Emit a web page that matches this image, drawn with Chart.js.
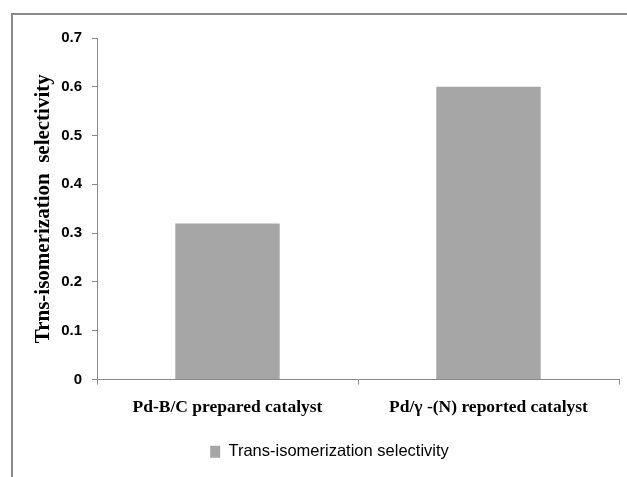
<!DOCTYPE html>
<html>
<head>
<meta charset="utf-8">
<script src="https://cdn.jsdelivr.net/npm/chart.js@4.4.0/dist/chart.umd.min.js"></script>
<style>
  html, body { margin: 0; padding: 0; background: #fff; }
  #wrap { position: relative; width: 627px; height: 477px; overflow: hidden; }
  #frame { position: absolute; left: 11px; top: 13px; width: 660px; height: 500px; border: 2px solid #8a8a8a; box-sizing: border-box; }
  canvas { position: absolute; left: 0; top: 0; }
</style>
</head>
<body>
<div id="wrap">
  <div id="frame"></div>
  <canvas id="chart" width="627" height="477"></canvas>
</div>
<script>
const categories = ["Pd-B/C prepared catalyst", "Pd/\u03b3 -(N) reported catalyst"];
const selectivity = [0.32, 0.60];
const seriesName = "Trans-isomerization selectivity";
const yTitle = "Trns-isomerization  selectivity";

const ctx = document.getElementById("chart").getContext("2d");

// nudge the legend a bit to the right, like the original
const shiftLegend = {
  id: "shiftLegend",
  afterLayout(chart) {
    chart.legend.left += 20;
    chart.legend.right += 20;
  },
};

new Chart(ctx, {
  type: "bar",
  data: {
    labels: categories,
    datasets: [
      {
        label: seriesName,
        data: selectivity,
        backgroundColor: "#a6a6a6",
        borderWidth: 0,
        barPercentage: 0.4,
        categoryPercentage: 1.0,
      },
    ],
  },
  plugins: [shiftLegend],
  options: {
    responsive: false,
    animation: false,
    devicePixelRatio: 1,
    layout: {
      padding: { left: 0, right: 8, top: 38, bottom: 7 },
    },
    plugins: {
      tooltip: { enabled: false },
      legend: {
        position: "bottom",
        labels: {
          boxWidth: 10,
          boxHeight: 12,
          padding: 10,
          color: "#000",
          font: { family: "Liberation Sans", size: 16.5 },
        },
      },
    },
    scales: {
      x: {
        afterFit: (scale) => { scale.height = 54; },
        grid: {
          offset: true,
          drawOnChartArea: false,
          tickLength: 5,
          color: "#8a8a8a",
        },
        border: { color: "#8a8a8a", width: 1 },
        ticks: {
          color: "#000",
          padding: 12,
          maxRotation: 0,
          font: { family: "Liberation Serif", size: 17.5, weight: "bold" },
        },
      },
      y: {
        min: 0,
        max: 0.7,
        afterFit: (scale) => { scale.width = 97; },
        grid: {
          drawOnChartArea: false,
          tickLength: 5,
          color: "#8a8a8a",
        },
        border: { color: "#8a8a8a", width: 1 },
        ticks: {
          stepSize: 0.1,
          padding: 10,
          color: "#000",
          font: { family: "Liberation Sans", size: 15, weight: "bold" },
          callback: (v) => (v === 0 ? "0" : v.toFixed(1)),
        },
        title: {
          display: true,
          text: yTitle,
          color: "#000",
          padding: { top: 31, bottom: 0 },
          font: { family: "Liberation Serif", size: 21, weight: "bold" },
        },
      },
    },
  },
});
</script>
</body>
</html>
